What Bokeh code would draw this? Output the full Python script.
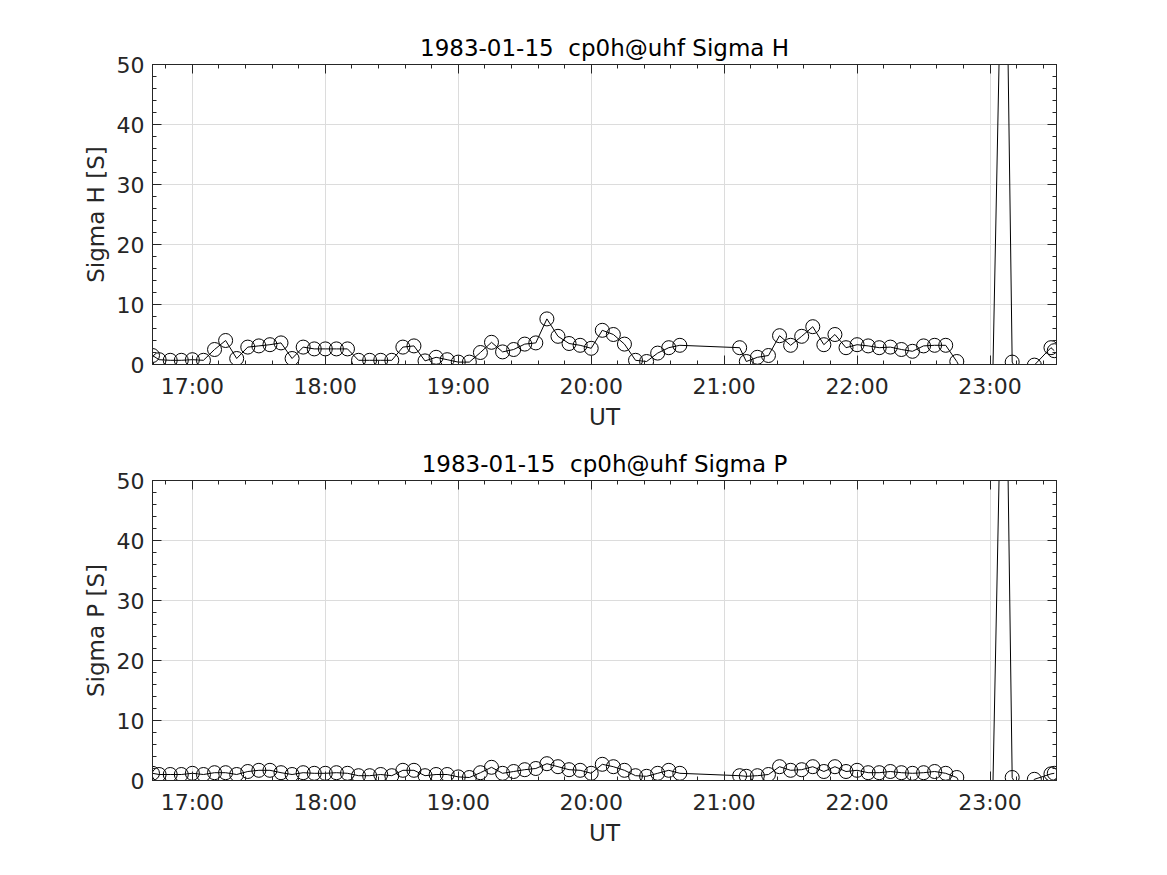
import pandas as pd
from bokeh.plotting import figure
from bokeh.layouts import column
from bokeh.models import (FixedTicker, DatetimeTickFormatter, DatetimeAxis, LinearAxis,
                          Range1d, ColumnDataSource)
from bokeh.embed import file_html
from bokeh.resources import INLINE

DATE = "1983-01-15"

times = [
    "16:42", "16:45", "16:50", "16:55", "17:00", "17:05", "17:10", "17:15", "17:20", "17:25",
    "17:30", "17:35", "17:40", "17:45", "17:50", "17:55", "18:00", "18:05", "18:10", "18:15",
    "18:20", "18:25", "18:30", "18:35", "18:40", "18:45", "18:50", "18:55", "19:00", "19:05",
    "19:10", "19:15", "19:20", "19:25", "19:30", "19:35", "19:40", "19:45", "19:50", "19:55",
    "20:00", "20:05", "20:10", "20:15", "20:20", "20:25", "20:30", "20:35", "20:40",
    "21:07", "21:10", "21:15", "21:20", "21:25", "21:30", "21:35", "21:40", "21:45", "21:50",
    "21:55", "22:00", "22:05", "22:10", "22:15", "22:20", "22:25", "22:30", "22:35", "22:40",
    "22:45",
    "22:50", "22:55", "23:00", "23:06:30", "23:10", "23:15", "23:20", "23:27:30", "23:29",
]

sigma_h = [
    1.5, 0.8, 0.7, 0.7, 0.8, 0.7, 2.5, 4.0, 1.0, 2.9,
    3.1, 3.3, 3.6, 1.0, 2.9, 2.6, 2.6, 2.6, 2.6, 0.7,
    0.7, 0.7, 0.7, 2.9, 3.1, 0.6, 1.2, 0.8, 0.4, 0.4,
    2.0, 3.7, 2.1, 2.5, 3.4, 3.6, 7.6, 4.7, 3.5, 3.2,
    2.7, 5.7, 5.0, 3.4, 0.7, 0.5, 1.9, 2.8, 3.2,
    2.8, 0.5, 1.2, 1.5, 4.8, 3.2, 4.7, 6.3, 3.3, 5.0,
    2.8, 3.3, 3.1, 2.8, 2.9, 2.5, 2.2, 3.1, 3.2, 3.2,
    0.5,
    -3.0, -3.0, -25.0, 95.0, 0.4, -3.0, -0.1, 2.8, 2.3,
]

sigma_p = [
    1.2, 1.0, 1.0, 1.0, 1.2, 1.0, 1.3, 1.3, 1.0, 1.5,
    1.7, 1.7, 1.3, 1.0, 1.3, 1.2, 1.2, 1.3, 1.2, 0.8,
    0.8, 1.0, 0.8, 1.7, 1.7, 0.8, 1.0, 1.0, 0.6, 0.5,
    1.3, 2.2, 1.2, 1.5, 1.8, 2.0, 2.8, 2.3, 1.8, 1.7,
    1.2, 2.7, 2.3, 1.7, 0.8, 0.7, 1.2, 1.7, 1.2,
    0.8, 0.7, 0.8, 1.0, 2.3, 1.7, 1.8, 2.3, 1.5, 2.3,
    1.5, 1.7, 1.3, 1.3, 1.5, 1.3, 1.2, 1.3, 1.5, 1.2,
    0.5,
    -3.0, -3.0, -25.0, 95.0, 0.5, -3.0, 0.2, 1.1, 1.2,
]

x_tick_labels = ["17:00", "18:00", "19:00", "20:00", "21:00", "22:00", "23:00"]
y_ticks = [0, 10, 20, 30, 40, 50]
x_start, x_end = "16:42", "23:30"

FONT = "DejaVu Sans"
TXT = "#262626"
NBSP = "\u00a0"


def ts(s):
    return pd.Timestamp(f"{DATE} {s}")


def ms(s):
    return ts(s).value / 1e6


x_vals = [ts(s) for s in times]
major_x = [ms(s) for s in x_tick_labels]
minor_x = []
m = ms("16:00")
while m <= ms("23:59"):
    minor_x.append(m)
    m += 12 * 60 * 1000
x_ticker = FixedTicker(ticks=major_x, minor_ticks=minor_x)
y_ticker = FixedTicker(ticks=y_ticks, minor_ticks=list(range(0, 51, 2)))
fmt = "%H:%M"
x_formatter = DatetimeTickFormatter(microseconds=fmt, milliseconds=fmt, seconds=fmt,
                                    minsec=fmt, minutes=fmt, hourmin=fmt, hours=fmt,
                                    days=fmt, months=fmt, years=fmt)


def style_axis(ax, show_labels=True):
    ax.axis_line_color = TXT
    ax.major_tick_line_color = TXT
    ax.minor_tick_line_color = TXT
    ax.major_tick_in = 9
    ax.major_tick_out = 0
    ax.minor_tick_in = 4
    ax.minor_tick_out = 0
    ax.major_label_text_font = FONT
    ax.major_label_text_color = TXT
    ax.axis_label_text_font = FONT
    ax.axis_label_text_color = TXT
    ax.axis_label_text_font_style = "normal"
    ax.axis_label_text_font_size = "23px"
    if show_labels:
        ax.major_label_text_font_size = "22px"
    else:
        ax.major_label_text_font_size = "0px"
        ax.major_label_standoff = 0


def make(title, ylabel, y, top, bottom):
    src = ColumnDataSource(dict(t=x_vals, v=y))
    p = figure(frame_width=904, frame_height=300, x_axis_type="datetime",
               x_range=Range1d(ts(x_start), ts(x_end)), y_range=Range1d(0, 50),
               output_backend="svg", toolbar_location=None, title=title,
               min_border_left=152, min_border_right=20,
               min_border_top=top, min_border_bottom=bottom)
    p.background_fill_color = "white"
    p.border_fill_color = "white"
    p.outline_line_color = TXT
    p.title.text_font = FONT
    p.title.text_font_size = "23px"
    p.title.text_font_style = "normal"
    p.title.text_color = "black"
    p.title.align = "center"
    p.title.standoff = 8

    xa = p.xaxis[0]
    xa.ticker = x_ticker
    xa.formatter = x_formatter
    xa.axis_label = "UT"
    style_axis(xa)
    xa.major_label_standoff = 9
    xa.axis_label_standoff = 2

    ya = p.yaxis[0]
    ya.ticker = y_ticker
    ya.axis_label = ylabel
    style_axis(ya)
    ya.major_label_standoff = 8
    ya.axis_label_standoff = 5

    top_ax = DatetimeAxis(ticker=x_ticker, formatter=x_formatter)
    style_axis(top_ax, show_labels=False)
    p.add_layout(top_ax, "above")
    right_ax = LinearAxis(ticker=y_ticker)
    style_axis(right_ax, show_labels=False)
    p.add_layout(right_ax, "right")

    p.xgrid.ticker = x_ticker
    p.ygrid.ticker = y_ticker
    for g in (p.xgrid, p.ygrid):
        g.grid_line_color = "#dcdcdc"
        g.grid_line_width = 1

    p.line("t", "v", source=src, line_color="black", line_width=1)
    p.scatter("t", "v", source=src, marker="circle", size=14, fill_color=None,
              line_color="black", line_width=1)
    return p


p1 = make(f"{DATE} {NBSP}cp0h@uhf Sigma H", "Sigma H [S]", sigma_h, 64, 58)
p2 = make(f"{DATE} {NBSP}cp0h@uhf Sigma P", "Sigma P [S]", sigma_p, 48, 80)

layout = column(p1, p2, spacing=0)
open("out.html", "w").write(file_html(layout, INLINE))
